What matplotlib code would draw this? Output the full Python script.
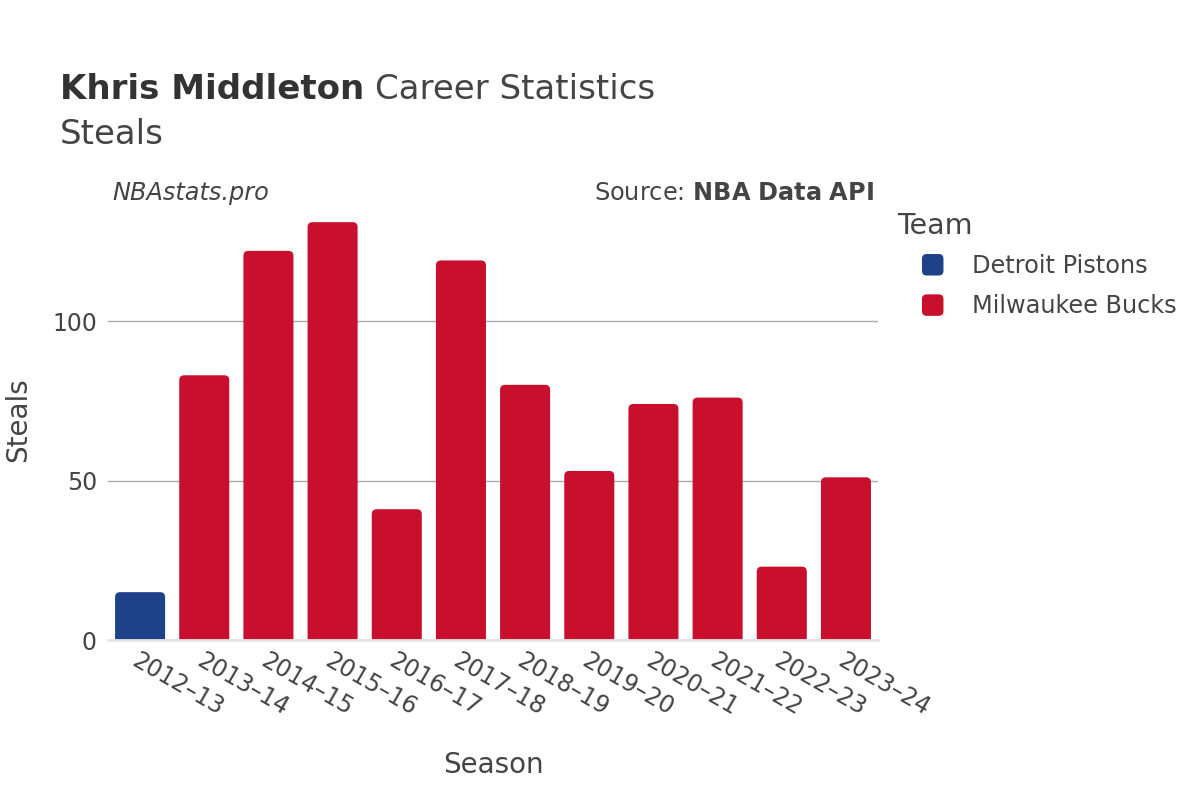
import matplotlib.pyplot as plt
from matplotlib.patches import FancyBboxPatch, Patch
from matplotlib.legend_handler import HandlerPatch

plt.rcParams['font.family'] = ['DejaVu Sans']

seasons = ['2012–13', '2013–14', '2014–15', '2015–16', '2016–17', '2017–18',
           '2018–19', '2019–20', '2020–21', '2021–22', '2022–23', '2023–24']
teams = ['Detroit Pistons', 'Milwaukee Bucks', 'Milwaukee Bucks', 'Milwaukee Bucks',
         'Milwaukee Bucks', 'Milwaukee Bucks', 'Milwaukee Bucks', 'Milwaukee Bucks',
         'Milwaukee Bucks', 'Milwaukee Bucks', 'Milwaukee Bucks', 'Milwaukee Bucks']
steals = [15, 83, 122, 131, 41, 119, 80, 53, 74, 76, 23, 51]
team_colors = {'Detroit Pistons': '#1D428A', 'Milwaukee Bucks': '#C8102E'}

txt = '#444444'
fig = plt.figure(figsize=(12, 8), dpi=100)
ax = fig.add_axes([0.09, 0.2, 0.6417, 0.55])

x = list(range(len(seasons)))
ax.set_xlim(-0.5, len(seasons) - 0.5)
ymax = max(steals) * 1.053
ax.set_ylim(0, ymax)

# rounded-top bars: invisible bars, then rounded patches clipped by the axes
bars = ax.bar(x, steals, width=0.78, color='none')
px_x = 0.6417 * 1200 / len(seasons)
px_y = 0.55 * 800 / ymax
r = 5 / px_x
for b, t in zip(bars, teams):
    bx, bw, bh = b.get_x(), b.get_width(), b.get_height()
    p = FancyBboxPatch((bx, -5), bw, bh + 5,
                       boxstyle=f'round,pad=0,rounding_size={r}',
                       mutation_aspect=px_x / px_y,
                       facecolor=team_colors[t], edgecolor='none', zorder=3)
    ax.add_patch(p)

ax.set_yticks([0, 50, 100])
ax.yaxis.grid(True, color='#aaaaaa', linewidth=1)
ax.set_axisbelow(True)
for s in ['top', 'right', 'left']:
    ax.spines[s].set_visible(False)
ax.spines['bottom'].set_color('#e6e6e6')
ax.spines['bottom'].set_linewidth(2)
ax.spines['bottom'].set_zorder(4)
ax.tick_params(axis='both', length=0, labelsize=17, colors=txt, pad=8)
ax.set_xticks(x)
ax.set_xticklabels(seasons, rotation=-30, ha='left', va='top',
                   rotation_mode='anchor')
ax.tick_params(axis='x', pad=6)

ax.set_xlabel('Season', fontsize=20, color=txt, labelpad=22)
ax.set_ylabel('Steals', fontsize=20, color=txt, labelpad=14)

t1 = fig.text(0.05, 0.876, 'Khris Middleton', fontsize=24.5, fontweight='bold', color='#333333')
fig.canvas.draw()
bb = t1.get_window_extent()
fig.text((bb.x1 + 11) / 1200, 0.876, 'Career Statistics', fontsize=24.5, color=txt)
fig.text(0.05, 0.82, 'Steals', fontsize=24.5, color=txt)
fig.text(0.094, 0.75, 'NBAstats.pro', fontsize=17.3, style='italic', color=txt)
fig.text(0.728, 0.75, r'Source: $\bf{NBA\ Data\ API}$', fontsize=17.3, color=txt, ha='right')


def rounded(legend, orig_handle, xdescent, ydescent, width, height, fontsize):
    s = min(width, height)
    return FancyBboxPatch((-xdescent, -ydescent + (height - s) / 2), s, s,
                          boxstyle=f'round,pad=0,rounding_size={s * 0.22}')


fig.text(0.7475, 1 - 226 / 800, 'Team', fontsize=20.5, color=txt, va='center')
handles = [Patch(facecolor=team_colors[k], edgecolor='none') for k in team_colors]
leg = fig.legend(handles, list(team_colors), loc='upper left',
                 bbox_to_anchor=(0.7683, 1 - 254 / 800), frameon=False, fontsize=17.3,
                 handlelength=1.0, handleheight=1.0, handletextpad=1.1,
                 labelspacing=0.68, borderpad=0, borderaxespad=0,
                 handler_map={Patch: HandlerPatch(patch_func=rounded)})
for t in leg.get_texts():
    t.set_color(txt)

fig.savefig('out.png', dpi=100)
